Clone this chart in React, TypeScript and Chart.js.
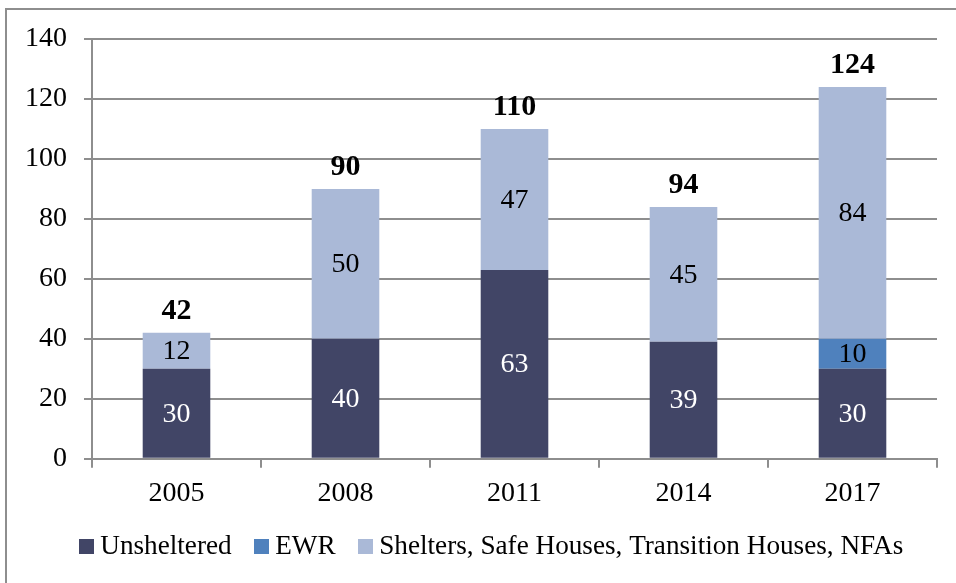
import React, { useEffect, useRef } from "react";
import { Chart, registerables } from "chart.js";

Chart.register(...registerables);

const categories = ["2005", "2008", "2011", "2014", "2017"];
const unsheltered = [30, 40, 63, 39, 30];
const ewr = [0, 0, 0, 0, 10];
const shelters = [12, 50, 47, 45, 84];
const totalLabels = ["42", "90", "110", "94", "124"];
const seriesNames = ["Unsheltered", "EWR", "Shelters, Safe Houses, Transition Houses, NFAs"];
const seriesColors = ["#414566", "#4f81bd", "#aab9d7"];
const labelColors = ["#ffffff", "#000000", "#000000"];

const FONT = "'Liberation Serif', 'Times New Roman', serif";
const GRID = "#8e8e8e";

export default function App() {
  const ref = useRef<HTMLCanvasElement>(null);

  useEffect(() => {
    if (!ref.current) return;
    const swatches = seriesColors.map((c) => {
      const cv = document.createElement("canvas");
      cv.width = 15;
      cv.height = 15;
      const cx = cv.getContext("2d")!;
      cx.fillStyle = c;
      cx.fillRect(0, 0, 15, 15);
      return cv;
    });

    const valueLabels = {
      id: "valueLabels",
      afterLayout(chart: any) {
        if (chart.legend) {
          chart.legend.left += 26;
          chart.legend.right += 26;
        }
      },
      afterDatasetsDraw(chart: any) {
        const ctx = chart.ctx;
        ctx.save();
        ctx.textAlign = "center";
        ctx.textBaseline = "middle";
        ctx.font = `28px ${FONT}`;
        chart.data.datasets.forEach((ds: any, di: number) => {
          const meta = chart.getDatasetMeta(di);
          meta.data.forEach((el: any, i: number) => {
            const v = ds.data[i];
            if (!v) return;
            ctx.fillStyle = labelColors[di];
            ctx.fillText(String(v), el.x, (el.y + el.base) / 2 + 1);
          });
        });
        ctx.font = `bold 30px ${FONT}`;
        ctx.fillStyle = "#000";
        categories.forEach((_, i) => {
          let top = Infinity;
          let x = 0;
          chart.data.datasets.forEach((_d: any, di: number) => {
            const el = chart.getDatasetMeta(di).data[i];
            if (el.y < top) {
              top = el.y;
              x = el.x;
            }
          });
          ctx.fillText(totalLabels[i], x, top - 22);
        });
        ctx.restore();
      },
    };

    const chart = new Chart(ref.current, {
      type: "bar",
      data: {
        labels: categories,
        datasets: [
          { label: seriesNames[0], data: unsheltered, backgroundColor: seriesColors[0] },
          { label: seriesNames[1], data: ewr, backgroundColor: seriesColors[1] },
          { label: seriesNames[2], data: shelters, backgroundColor: seriesColors[2] },
        ],
      },
      options: {
        animation: false,
        responsive: false,
        maintainAspectRatio: false,
        datasets: { bar: { barPercentage: 0.4, categoryPercentage: 1 } },
        layout: { padding: { left: 0, right: 19, top: 39, bottom: 13 } },
        font: { family: FONT },
        scales: {
          x: {
            stacked: true,
            grid: { display: true, drawOnChartArea: false, drawTicks: true, tickLength: 9, color: GRID, lineWidth: 2, offset: true },
            border: { display: true, color: GRID, width: 2 },
            ticks: { color: "#000", font: { family: FONT, size: 28 }, padding: 9 },
            afterFit: (s: any) => { s.height = 45; },
          },
          y: {
            stacked: true,
            min: 0,
            max: 140,
            grid: { color: GRID, lineWidth: 2, tickLength: 8, drawTicks: true },
            border: { display: true, color: GRID, width: 2 },
            ticks: { stepSize: 20, color: "#000", font: { family: FONT, size: 28 }, padding: 17 },
            afterFit: (s: any) => { s.width = 92; },
          },
        },
        plugins: {
          tooltip: { enabled: false },
          legend: {
            position: "bottom",
            labels: {
              color: "#000",
              font: { family: FONT, size: 27.2 },
              usePointStyle: true,
              pointStyleWidth: 1,
              padding: 29,
              generateLabels: (c: any) => {
                const items = (Chart.defaults as any).plugins.legend.labels.generateLabels(c);
                return items.map((it: any, i: number) => ({ ...it, pointStyle: swatches[i] }));
              },
            },
          },
        },
      },
      plugins: [valueLabels],
    } as any);
    return () => chart.destroy();
  }, []);

  return (
    <div style={{ position: "fixed", left: 0, top: 0, width: 956, height: 583, background: "#fff", overflow: "hidden" }}>
      <div style={{ position: "absolute", left: 5, top: 8, width: 960, height: 590, borderTop: `2px solid ${GRID}`, borderLeft: `2px solid ${GRID}` }} />
      <canvas ref={ref} width={956} height={583} style={{ position: "absolute", left: 0, top: 0, width: 956, height: 583 }} />
    </div>
  );
}
